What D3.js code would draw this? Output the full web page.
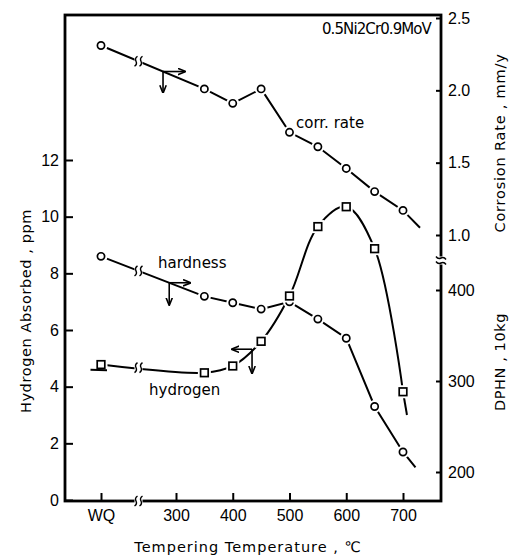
<!DOCTYPE html>
<html>
<head>
<meta charset="utf-8">
<script src="https://cdn.jsdelivr.net/npm/d3@7"></script>
<style>
  body { margin: 0; background: #fff; }
  svg { display: block; font-family: "DejaVu Sans", sans-serif; }
  .tick text { font-size: 16px; fill: #000; }
  .tick line { stroke: #000; stroke-width: 2; }
</style>
</head>
<body>
<div id="chart"></div>
<script>
// --------------------------------------
//  Data
// --------------------------------------

// 0 stands for "WQ" (water quenched) on the broken axis
const temps = [0, 350, 400, 450, 500, 550, 600, 650, 700];
const corrRate = [2.31, 2.01, 1.91, 2.01, 1.71, 1.61, 1.46, 1.30, 1.17];
const hardness = [437, 393, 386, 379, 387, 368, 347, 272, 222];
const hydrogen = [4.78, 4.49, 4.73, 5.6, 7.2, 9.65, 10.35, 8.87, 3.82];

// where each drawn line runs out past the end points
const corrTail = [730, 1.05];
const hardTail = [722, 205];
const hydLead = [-42, 4.6];
const hydTail = [707, 3.0];

const xTicks = [0, 300, 400, 500, 600, 700];
const hydTicks = [0, 2, 4, 6, 8, 10, 12];
const corrTicks = [1.0, 1.5, 2.0, 2.5];
const hardTicks = [200, 300, 400];

// --------------------------------------
//  Canvas
// --------------------------------------

const width = 523;
const height = 558;
const frame = {left: 65, right: 441, top: 15, bottom: 501};

const svg = d3.select("#chart")
  .append("svg")
    .attr("width", width)
    .attr("height", height);

// --------------------------------------
//  Scales
// --------------------------------------

const x = d3.scaleLinear()
    .domain([0, 300, 700])
    .range([101, 176, 403]);

const yH = d3.scaleLinear()
    .domain([0, 12])
    .range([frame.bottom - 1, 160]);

const yC = d3.scaleLinear()
    .domain([1.0, 2.5])
    .range([235, 18]);

const yD = d3.scaleLinear()
    .domain([200, 400])
    .range([472, 290]);

// --------------------------------------
//  Axes
// --------------------------------------

svg.append("g")
    .attr("transform", `translate(${frame.left}, 0)`)
    .call(d3.axisLeft(yH).tickValues(hydTicks).tickSize(-8).tickPadding(6))
    .call(g => g.select(".domain").remove());

svg.append("g")
    .attr("transform", `translate(${frame.right}, 0)`)
    .call(d3.axisRight(yC).tickValues(corrTicks).tickFormat(d3.format(".1f")).tickSize(-5).tickPadding(7))
    .call(g => g.select(".domain").remove());

svg.append("g")
    .attr("transform", `translate(${frame.right}, 0)`)
    .call(d3.axisRight(yD).tickValues(hardTicks).tickSize(-5).tickPadding(7))
    .call(g => g.select(".domain").remove());

svg.append("g")
    .attr("transform", `translate(0, ${frame.bottom})`)
    .call(d3.axisBottom(x).tickValues(xTicks).tickFormat(d => d === 0 ? "WQ" : d).tickSize(-8).tickPadding(9))
    .call(g => g.select(".domain").remove());

// frame
svg.append("rect")
    .attr("x", frame.left)
    .attr("y", frame.top)
    .attr("width", frame.right - frame.left)
    .attr("height", frame.bottom - frame.top)
    .attr("fill", "none")
    .attr("stroke", "#000")
    .attr("stroke-width", 2.8);

// --------------------------------------
//  Lines
// --------------------------------------

const corrPts = temps.map((t, i) => [x(t), yC(corrRate[i])]);
const hardPts = temps.map((t, i) => [x(t), yD(hardness[i])]);
const hydPts = temps.map((t, i) => [x(t), yH(hydrogen[i])]);

const straight = d3.line();
const smooth = d3.line().curve(d3.curveCatmullRom.alpha(0.5));

const lines = svg.append("g")
    .attr("fill", "none")
    .attr("stroke", "#000")
    .attr("stroke-width", 2);

lines.append("path")
    .attr("d", straight(corrPts.concat([[x(corrTail[0]), yC(corrTail[1])]])));

lines.append("path")
    .attr("d", straight(hardPts.concat([[x(hardTail[0]), yD(hardTail[1])]])));

lines.append("path")
    .attr("d", smooth(hydPts));

lines.append("path")
    .attr("d", straight([hydPts[hydPts.length - 1], [x(hydTail[0]), yH(hydTail[1])]]));

// --------------------------------------
//  Break marks
// --------------------------------------

const breakX = (x(0) + x(300)) / 2;

const breakMark = (cx, cy, rotate) => {
  const g = svg.append("g")
      .attr("transform", `translate(${cx}, ${cy}) rotate(${rotate || 0})`);
  g.append("rect")
      .attr("x", -4).attr("y", -4)
      .attr("width", 8).attr("height", 8)
      .attr("fill", "#fff");
  [-2.5, 2.5].forEach(dx => {
    g.append("path")
        .attr("d", `M${dx - 1.5},5 Q${dx + 1.5},3 ${dx},0 Q${dx - 1.5},-3 ${dx + 1.5},-5`)
        .attr("fill", "none")
        .attr("stroke", "#000")
        .attr("stroke-width", 1.4);
  });
};

// y of the segment between WQ and 350 at the break
const yAt = (pts, px) => {
  const [a, b] = [pts[0], pts[1]];
  return a[1] + (b[1] - a[1]) * (px - a[0]) / (b[0] - a[0]);
};

breakMark(breakX, yAt(corrPts, breakX));
breakMark(breakX, yAt(hardPts, breakX));
breakMark(breakX, yAt(hydPts, breakX));
breakMark(breakX, frame.bottom);
breakMark(frame.right, (yC(1.0) + yD(400)) / 2 - 2, 90);

// --------------------------------------
//  Markers
// --------------------------------------

const markers = svg.append("g");

[corrPts, hardPts].forEach(pts => {
  markers.selectAll(null)
    .data(pts)
    .join("circle")
      .attr("cx", d => d[0])
      .attr("cy", d => d[1])
      .attr("r", 6.5)
      .attr("fill", "#fff");
  markers.selectAll(null)
    .data(pts)
    .join("circle")
      .attr("cx", d => d[0])
      .attr("cy", d => d[1])
      .attr("r", 3.6)
      .attr("fill", "#fff")
      .attr("stroke", "#000")
      .attr("stroke-width", 1.7);
});

markers.selectAll(null)
  .data(hydPts)
  .join("rect")
    .attr("x", d => d[0] - 6.5)
    .attr("y", d => d[1] - 6.5)
    .attr("width", 13)
    .attr("height", 13)
    .attr("fill", "#fff");

// the WQ run-in passes just under the first square
svg.append("path")
    .attr("d", straight([[x(hydLead[0]), yH(hydLead[1])], [x(temps[0]) + 6, yH(hydLead[1]) + 0.5]]))
    .attr("fill", "none")
    .attr("stroke", "#000")
    .attr("stroke-width", 2);

svg.append("g").selectAll("rect")
  .data(hydPts)
  .join("rect")
    .attr("x", d => d[0] - 3.8)
    .attr("y", d => d[1] - 3.8)
    .attr("width", 7.6)
    .attr("height", 7.6)
    .attr("fill", "#fff")
    .attr("stroke", "#000")
    .attr("stroke-width", 1.7);

// --------------------------------------
//  Axis arrows
// --------------------------------------

svg.append("defs").append("marker")
    .attr("id", "head")
    .attr("viewBox", "0 0 10 10")
    .attr("refX", 9).attr("refY", 5)
    .attr("markerWidth", 5).attr("markerHeight", 5)
    .attr("orient", "auto")
  .append("path")
    .attr("d", "M0,1 L10,5 L0,9")
    .attr("fill", "none")
    .attr("stroke", "#000")
    .attr("stroke-width", 2);

const arrows = (pts, i, f, dx, dy) => {
  const px = pts[i][0] + (pts[i + 1][0] - pts[i][0]) * f;
  const py = pts[i][1] + (pts[i + 1][1] - pts[i][1]) * f;
  svg.append("line")
      .attr("x1", px).attr("y1", py)
      .attr("x2", px + dx).attr("y2", py)
      .attr("stroke", "#000").attr("stroke-width", 1.6)
      .attr("marker-end", "url(#head)");
  svg.append("line")
      .attr("x1", px).attr("y1", py)
      .attr("x2", px).attr("y2", py + dy)
      .attr("stroke", "#000").attr("stroke-width", 1.6)
      .attr("marker-end", "url(#head)");
};

arrows(corrPts, 0, 0.6, 22, 21);
arrows(hardPts, 0, 0.66, 21, 22);
arrows(hydPts, 2, 0.68, -20, 24);

// --------------------------------------
//  Text
// --------------------------------------

const label = (txt, px, py, size, anchor) => svg.append("text")
    .attr("x", px)
    .attr("y", py)
    .attr("font-size", size)
    .attr("text-anchor", anchor || "start")
    .text(txt);

label("corr. rate", 296, 128, 15);
label("hardness", 158, 268, 15);
label("hydrogen", 149, 395, 15);
label("0.5Ni2Cr0.9MoV", 431, 34, 15, "end")
    .attr("letter-spacing", -0.9);

label("Tempering Temperature , ℃", 248, 552, 14.5, "middle")
    .attr("letter-spacing", 1);

label("Hydrogen Absorbed , ppm", 0, 0, 14.5, "middle")
    .attr("letter-spacing", 0.6)
    .attr("transform", "translate(31, 311) rotate(-90)");

label("Corrosion Rate , mm/y", 0, 0, 14.5, "middle")
    .attr("letter-spacing", 0.8)
    .attr("transform", "translate(505, 143) rotate(-90)");

label("DPHN , 10kg", 0, 0, 14.5, "middle")
    .attr("letter-spacing", 0.6)
    .attr("transform", "translate(505, 362) rotate(-90)");
</script>
</body>
</html>
